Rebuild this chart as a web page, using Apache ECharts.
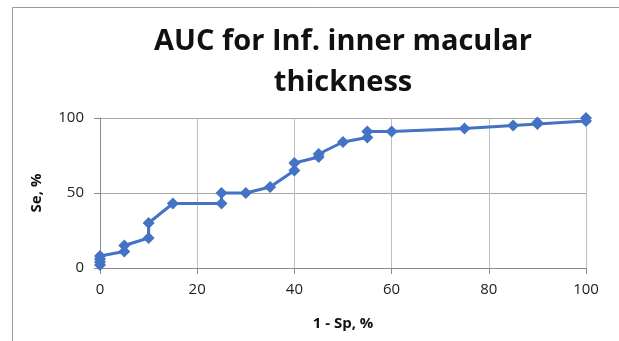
<!DOCTYPE html>
<html>
<head>
<meta charset="utf-8">
<script src="https://cdn.jsdelivr.net/npm/echarts@6/dist/echarts.min.js"></script>
<style>html,body{margin:0;padding:0;background:#fff;}#c{width:619px;height:341px;}</style>
</head>
<body>
<div id="c"></div>
<script>
var xValues = [0, 0, 0, 0, 5, 5, 10, 10, 15, 25, 25, 30, 35, 40, 40, 45, 45, 50, 55, 55, 60, 75, 85, 90, 90, 100, 100];
var yValues = [2, 4, 6, 8, 11, 15, 20, 30, 43, 43, 50, 50, 54, 65, 70, 74, 76, 84, 87, 91, 91, 93, 95, 96, 97, 98, 100];
var titleLines = ['AUC for Inf. inner macular', 'thickness'];
var xAxisName = '1 - Sp, %';
var yAxisName = 'Se, %';

var data = xValues.map(function (x, i) { return [x, yValues[i]]; });
var font = '"Open Sans", "Liberation Sans", sans-serif';
var chart = echarts.init(document.getElementById('c'), null, {renderer: 'canvas'});
chart.setOption({
  animation: false,
  backgroundColor: '#fff',
  title: {
    text: titleLines.join('\n'),
    left: 338, top: 16, textAlign: 'center',
    textStyle: {fontFamily: font, fontSize: 29, fontWeight: 'bold', color: '#111', lineHeight: 41}
  },
  graphic: [{
    type: 'rect', shape: {x: 12.5, y: 7.5, width: 640, height: 400},
    style: {fill: 'none', stroke: '#9a9a9a', lineWidth: 1}, silent: true
  }],
  grid: {left: 100, right: 33, top: 118, bottom: 73},
  xAxis: {
    type: 'value', min: 0, max: 100, interval: 20,
    name: xAxisName, nameLocation: 'middle', nameGap: 48,
    nameTextStyle: {fontFamily: font, fontSize: 15, fontWeight: 'bold', color: '#111'},
    axisLine: {show: true, onZero: false, lineStyle: {color: '#8c8c8c', width: 1}},
    axisTick: {show: true, length: 6, lineStyle: {color: '#8c8c8c'}},
    axisLabel: {fontFamily: font, fontSize: 15, color: '#222', margin: 14},
    splitLine: {show: true, lineStyle: {color: '#bfbfbf', width: 1}}
  },
  yAxis: {
    type: 'value', min: 0, max: 100, interval: 50,
    name: yAxisName, nameLocation: 'middle', nameGap: 56, nameRotate: 90,
    nameTextStyle: {fontFamily: font, fontSize: 15, fontWeight: 'bold', color: '#111'},
    axisLine: {show: true, lineStyle: {color: '#8c8c8c', width: 1}},
    axisTick: {show: true, length: 6, lineStyle: {color: '#8c8c8c'}},
    axisLabel: {fontFamily: font, fontSize: 15, color: '#222', margin: 16},
    splitLine: {show: true, lineStyle: {color: '#a6a6a6', width: 1}}
  },
  series: [{
    type: 'line', data: data,
    symbol: 'diamond', symbolSize: 12,
    lineStyle: {color: '#4472C4', width: 3},
    itemStyle: {color: '#4472C4'}
  }]
});
</script>
</body>
</html>
